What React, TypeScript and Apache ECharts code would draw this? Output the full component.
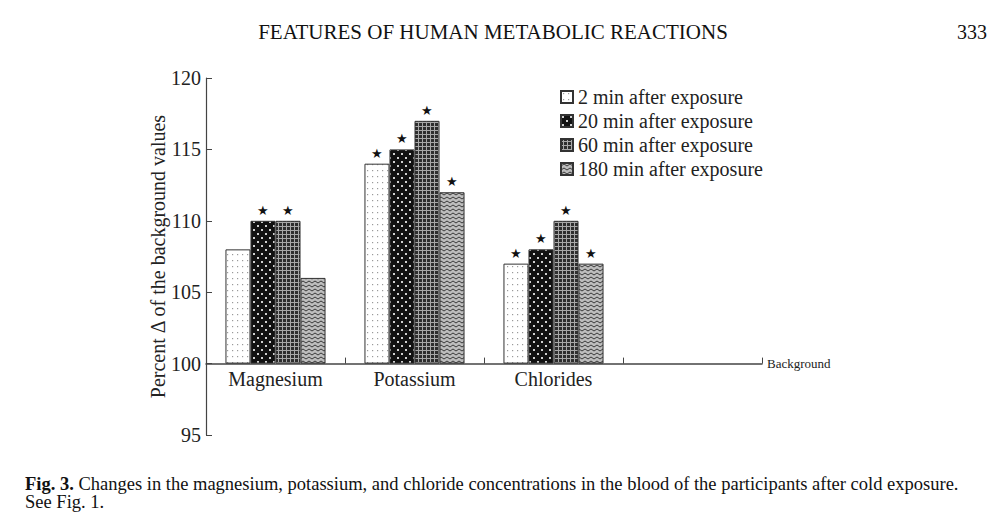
import React, { useEffect, useRef } from "react";
import * as echarts from "echarts";

const categories = ["Magnesium", "Potassium", "Chlorides", ""];
const seriesNames = [
  "2 min after exposure",
  "20 min after exposure",
  "60 min after exposure",
  "180 min after exposure",
];
const values2 = [108, 114, 107];
const values20 = [110, 115, 108];
const values60 = [110, 117, 110];
const values180 = [106, 112, 107];
const stars2 = [false, true, true];
const stars20 = [true, true, true];
const stars60 = [true, true, true];
const stars180 = [false, true, true];
const yTicks = [95, 100, 105, 110, 115, 120];
const baseline = 100;

const FONT = "'Liberation Serif', 'DejaVu Serif', serif";

function makeCanvas(w: number, h: number, draw: (c: CanvasRenderingContext2D) => void) {
  const cv = document.createElement("canvas");
  cv.width = w;
  cv.height = h;
  const ctx = cv.getContext("2d")!;
  draw(ctx);
  return cv;
}

function patterns() {
  const p1 = makeCanvas(5, 6, (c) => {
    c.fillStyle = "#ffffff";
    c.fillRect(0, 0, 5, 6);
    c.fillStyle = "#9a9a9a";
    c.fillRect(2, 2, 1.2, 1.2);
  });
  const p2 = makeCanvas(8, 8, (c) => {
    c.fillStyle = "#111111";
    c.fillRect(0, 0, 8, 8);
    c.fillStyle = "#d0d0d0";
    c.fillRect(1, 1, 2, 2);
    c.fillRect(5, 5, 2, 2);
  });
  const p3 = makeCanvas(4, 4, (c) => {
    c.fillStyle = "#2e2e2e";
    c.fillRect(0, 0, 4, 4);
    c.fillStyle = "#a8a8a8";
    c.fillRect(2, 0, 1, 4);
    c.fillRect(0, 2, 4, 1);
  });
  const p4 = makeCanvas(6, 4, (c) => {
    c.fillStyle = "#bdbdbd";
    c.fillRect(0, 0, 6, 4);
    c.strokeStyle = "#3a3a3a";
    c.lineWidth = 1;
    c.beginPath();
    c.moveTo(0, 3);
    c.lineTo(3, 1);
    c.lineTo(6, 3);
    c.stroke();
  });
  return [p1, p2, p3, p4].map((img) => ({ image: img, repeat: "repeat" }));
}

export default function App() {
  const ref = useRef<HTMLDivElement>(null);
  useEffect(() => {
    if (!ref.current) return;
    const chart = echarts.init(ref.current, undefined, { renderer: "svg" });
    const pats = patterns();
    const all = [values2, values20, values60, values180];
    const stars = [stars2, stars20, stars60, stars180];
    const series = all.map((vals, i) => ({
      name: seriesNames[i],
      type: "bar",
      barGap: "0%",
      barCategoryGap: "28%",
      itemStyle: { color: pats[i] as any, borderColor: "#333", borderWidth: 1 },
      label: {
        show: false,
        position: "top",
        distance: 4,
        formatter: "★",
        fontSize: 13,
        color: "#111",
      },
      data: vals.map((v, j) => ({
        value: v - baseline,
        label: { show: stars[i][j] },
      })),
    }));
    chart.setOption({
      animation: false,
      backgroundColor: "#ffffff",
      textStyle: { fontFamily: FONT },
      grid: { left: 206, right: 237, top: 78, bottom: 82 },
      legend: {
        orient: "vertical",
        left: 555,
        top: 82,
        itemWidth: 12,
        itemHeight: 12,
        itemGap: 4,
        icon: "rect",
        textStyle: { fontFamily: FONT, fontSize: 20, color: "#222" },
        data: seriesNames,
      },
      xAxis: {
        type: "category",
        data: categories,
        name: "Background",
        nameLocation: "end",
        nameGap: 5,
        nameTextStyle: { fontFamily: FONT, fontSize: 13, color: "#222", verticalAlign: "middle" },
        axisLine: { onZero: true, lineStyle: { color: "#444", width: 1.5 } },
        axisTick: { show: true, inside: true, length: 6, alignWithLabel: false, lineStyle: { color: "#444" } },
        axisLabel: { fontFamily: FONT, fontSize: 20, color: "#222", margin: -66, interval: 0 },
      },
      yAxis: {
        type: "value",
        min: yTicks[0] - baseline,
        max: yTicks[yTicks.length - 1] - baseline,
        interval: 5,
        name: "Percent Δ of the background values",
        nameLocation: "middle",
        nameGap: 38,
        nameMoveOverlap: false,
        nameRotate: 90,
        nameTextStyle: { fontFamily: FONT, fontSize: 20, color: "#222" },
        axisLine: { show: true, onZero: false, lineStyle: { color: "#444", width: 1.2 } },
        axisTick: { show: true, inside: true, length: 6, lineStyle: { color: "#444" } },
        axisLabel: {
          fontFamily: FONT,
          fontSize: 20,
          color: "#222",
          margin: 5,
          formatter: (v: number) => String(v + baseline),
        },
        splitLine: { show: false },
      },
      graphic: [
        {
          type: "text",
          x: 493,
          y: 32,
          style: {
            text: "FEATURES OF HUMAN METABOLIC REACTIONS",
            font: `21px ${FONT}`,
            fill: "#111",
            align: "center",
            verticalAlign: "middle",
          },
        },
        {
          type: "text",
          x: 987,
          y: 32,
          style: {
            text: "333",
            font: `20px ${FONT}`,
            fill: "#111",
            align: "right",
            verticalAlign: "middle",
          },
        },
        {
          type: "text",
          x: 25,
          y: 475,
          style: {
            text:
              "{b|Fig. 3.} Changes in the magnesium, potassium, and chloride concentrations in the blood of the participants after cold exposure.\nSee Fig. 1.",
            font: `18.5px ${FONT}`,
            fill: "#111",
            lineHeight: 18,
            rich: {
              b: { fontWeight: "bold", fontFamily: FONT, fontSize: 18.5, fill: "#111", lineHeight: 18 },
            },
          },
        },
      ],
      series,
    });
    return () => chart.dispose();
  }, []);
  return (
    <div
      ref={ref}
      style={{ position: "fixed", left: 0, top: 0, width: 999, height: 517, background: "#fff" }}
    />
  );
}
